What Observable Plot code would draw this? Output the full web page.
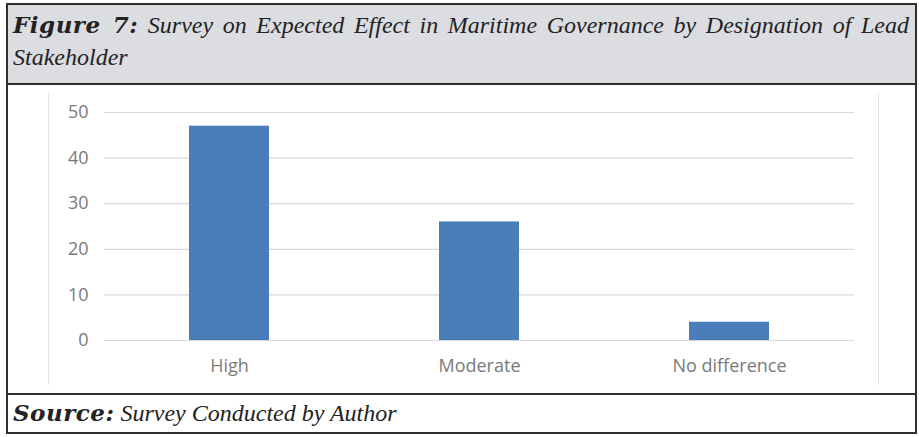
<!DOCTYPE html>
<html>
<head>
<meta charset="utf-8">
<script src="https://cdn.jsdelivr.net/npm/d3@7"></script>
<script src="https://cdn.jsdelivr.net/npm/@observablehq/plot@0.6"></script>
<style>
  html, body { margin: 0; padding: 0; background: #fff; }
  #page { position: relative; width: 919px; height: 437px; overflow: hidden; }
  #frame { position: absolute; left: 6px; top: 3px; width: 911px; height: 431px; box-sizing: border-box; border: 2px solid #2e2e2e; }
  #title { position: absolute; left: 0; top: 0; width: 907px; height: 78px; background: #dcdde0; border-bottom: 2px solid #2e2e2e; font-family: "Liberation Serif", serif; font-style: italic; font-size: 24px; color: #222; }
  #title .l1 { position: absolute; left: 5px; top: 6px; width: 896px; text-align: justify; text-align-last: justify; white-space: nowrap; line-height: 28px; }
  #title .l2 { position: absolute; left: 5px; top: 38px; line-height: 28px; }
  .lab { font-family: "DejaVu Serif", serif; font-weight: bold; font-style: italic; font-size: 23px; letter-spacing: 0.5px; }
  #chartbox { position: absolute; left: 40px; top: 88px; width: 829px; height: 292px; border-left: 1px solid #e4e4e4; border-right: 1px solid #e4e4e4; }
  #source { position: absolute; left: 0; top: 388px; width: 907px; border-top: 2px solid #2e2e2e; height: 39px; font-family: "Liberation Serif", serif; font-style: italic; font-size: 24px; color: #222; }
  #source .txt { position: absolute; left: 5px; top: 4px; line-height: 28px; white-space: nowrap; }
</style>
</head>
<body>
<div id="page">
  <div id="frame">
    <div id="title">
      <div class="l1"><span class="lab">Figure 7:</span> Survey on Expected Effect in Maritime Governance by Designation of Lead</div>
      <div class="l2">Stakeholder</div>
    </div>
    <div id="chartbox"></div>
    <div id="source"><div class="txt"><span class="lab">Source:</span> Survey Conducted by Author</div></div>
  </div>
</div>
<script>
const categories = ["High", "Moderate", "No difference"];
const values = [47, 26, 4];
const yTicks = [0, 10, 20, 30, 40, 50];

const data = categories.map((c, i) => ({category: c, value: values[i]}));

const chart = Plot.plot({
  width: 829,
  height: 292,
  marginLeft: 55,
  marginRight: 24,
  marginTop: 19,
  marginBottom: 45,
  style: {fontFamily: "'Open Sans', sans-serif", fontSize: "18px", color: "#7a7a7a", background: "transparent"},
  x: {domain: categories, paddingInner: 0.68, paddingOuter: 0.34, label: null},
  y: {domain: [0, 50], ticks: yTicks, label: null},
  marks: [
    Plot.gridY(yTicks, {stroke: "#d9d9d9", strokeOpacity: 1, strokeWidth: 1.2}),
    Plot.barY(data, {x: "category", y: "value", fill: "#4a7ebb"}),
    Plot.axisY({ticks: yTicks, tickSize: 0, tickPadding: 16, label: null}),
    Plot.axisX({tickSize: 0, tickPadding: 19, label: null})
  ]
});
document.getElementById("chartbox").appendChild(chart);
</script>
</body>
</html>
